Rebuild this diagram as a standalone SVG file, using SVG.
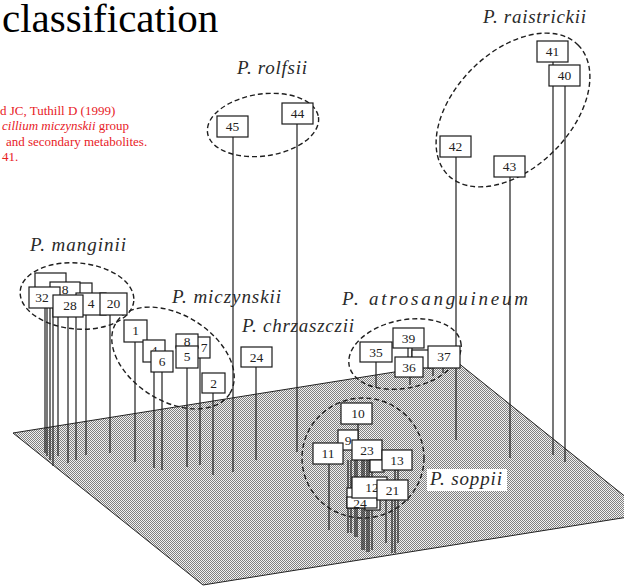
<svg xmlns="http://www.w3.org/2000/svg" width="624" height="588" viewBox="0 0 624 588">
  <defs>
    <pattern id="stipple" width="2" height="2" patternUnits="userSpaceOnUse">
      <rect width="2" height="2" fill="#f2f2f2"/>
      <rect x="0" y="0" width="1" height="1" fill="#808080"/>
      <rect x="1" y="1" width="1" height="1" fill="#808080"/>
    </pattern>
    <style>
      .title { font-family: "Liberation Serif", "Times New Roman", serif; font-size: 41px; fill: #000; }
      .ref { font-family: "Liberation Serif", "Times New Roman", serif; font-size: 13px; fill: #e8211f; }
      .sp { font-family: "Liberation Serif", "Times New Roman", serif; font-style: italic; font-size: 19px; fill: #2a2a2a; }
      .box { fill: #fff; stroke: #1a1a1a; stroke-width: 1.2; }
      .num { font-family: "Liberation Serif", "Times New Roman", serif; font-size: 13.5px; fill: #222; text-anchor: middle; }
      .grp { fill: none; stroke: #1e1e1e; stroke-width: 1.4; stroke-dasharray: 5 3; }
      .stem { stroke: #1e1e1e; stroke-width: 1.2; fill: none; }
    </style>
  </defs>

  <rect width="624" height="588" fill="#fff"/>

  <!-- heading and reference -->
  <text class="title" x="2" y="32">classification</text>
  <g id="reference">
    <text class="ref" x="0" y="115">d JC, Tuthill D (1999)</text>
    <text class="ref" x="2" y="130"><tspan font-style="italic">cillium miczynskii</tspan> group</text>
    <text class="ref" x="6" y="146">and secondary metabolites.</text>
    <text class="ref" x="2" y="161">41.</text>
  </g>

  <!-- ground plane -->
  <polygon id="plane" points="13,433 457,362 647,514 203,585" fill="url(#stipple)" stroke="#222" stroke-width="1"/>

  <!-- cluster outlines -->
  <g id="clusters">
    <ellipse class="grp" cx="513" cy="110" rx="92" ry="58" transform="rotate(-45 513 110)"/>
    <ellipse class="grp" cx="263" cy="125" rx="56" ry="31" transform="rotate(-8 263 125)"/>
    <ellipse class="grp" cx="77" cy="296" rx="57" ry="33" transform="rotate(5 77 296)"/>
    <ellipse class="grp" cx="173" cy="358" rx="67" ry="43" transform="rotate(32 173 358)"/>
    <ellipse class="grp" cx="405" cy="354" rx="57" ry="34" transform="rotate(-12 405 354)"/>
    <ellipse class="grp" cx="363" cy="458" rx="61" ry="60"/>
  </g>

  <!-- stems from each marker down to the plane -->
  <g id="connectors">
    <line class="stem" x1="553" y1="62" x2="553" y2="455"/>
    <line class="stem" x1="565" y1="86" x2="565" y2="462"/>
    <line class="stem" x1="456" y1="157" x2="456" y2="440"/>
    <line class="stem" x1="510" y1="177" x2="510" y2="458"/>
    <line class="stem" x1="233" y1="137" x2="233" y2="472"/>
    <line class="stem" x1="297" y1="124" x2="297" y2="452"/>
    <!-- manginii -->
    <line class="stem" x1="45" y1="300" x2="45" y2="453"/>
    <line class="stem" x1="47" y1="300" x2="47" y2="456"/>
    <line class="stem" x1="50" y1="300" x2="50" y2="460"/>
    <line class="stem" x1="53" y1="300" x2="53" y2="466"/>
    <line class="stem" x1="58" y1="310" x2="58" y2="456"/>
    <line class="stem" x1="68" y1="310" x2="68" y2="463"/>
    <line class="stem" x1="76" y1="310" x2="76" y2="460"/>
    <line class="stem" x1="86" y1="310" x2="86" y2="455"/>
    <line class="stem" x1="110" y1="310" x2="110" y2="453"/>
    <!-- miczynskii -->
    <line class="stem" x1="135" y1="342" x2="135" y2="462"/>
    <line class="stem" x1="154" y1="362" x2="154" y2="468"/>
    <line class="stem" x1="162" y1="372" x2="162" y2="470"/>
    <line class="stem" x1="187" y1="368" x2="187" y2="467"/>
    <line class="stem" x1="200" y1="358" x2="200" y2="465"/>
    <line class="stem" x1="213" y1="393" x2="213" y2="475"/>
    <!-- chrzaszczii -->
    <line class="stem" x1="256" y1="367" x2="256" y2="460"/>
    <!-- atrosanguineum -->
    <line class="stem" x1="376" y1="362" x2="376" y2="387"/>
    <line class="stem" x1="408" y1="348" x2="408" y2="358"/>
    <line class="stem" x1="412" y1="348" x2="412" y2="358"/>
    <line class="stem" x1="410" y1="377" x2="410" y2="385"/>
    <line class="stem" x1="433" y1="368" x2="433" y2="376"/>
    <line class="stem" x1="443" y1="368" x2="443" y2="373"/>
    <!-- soppii -->
    <line class="stem" x1="358" y1="424" x2="358" y2="440"/>
    <line class="stem" x1="329" y1="464" x2="329" y2="530"/>
    <line class="stem" x1="348" y1="460" x2="348" y2="533"/>
    <line class="stem" x1="351" y1="460" x2="351" y2="533"/>
    <line class="stem" x1="355" y1="460" x2="355" y2="537"/>
    <line class="stem" x1="357" y1="460" x2="357" y2="537"/>
    <line class="stem" x1="362" y1="460" x2="362" y2="550"/>
    <line class="stem" x1="364" y1="460" x2="364" y2="550"/>
    <line class="stem" x1="367" y1="460" x2="367" y2="552"/>
    <line class="stem" x1="369" y1="460" x2="369" y2="552"/>
    <line class="stem" x1="372" y1="460" x2="372" y2="550"/>
    <line class="stem" x1="386" y1="500" x2="386" y2="543"/>
    <line class="stem" x1="392" y1="500" x2="392" y2="553"/>
    <line class="stem" x1="395" y1="470" x2="395" y2="553"/>
    <line class="stem" x1="398" y1="470" x2="398" y2="543"/>
  </g>

  <!-- P. raistrickii -->
  <g id="n41"><rect class="box" x="537" y="41" width="31" height="21"/><text class="num" x="552.5" y="56">41</text></g>
  <g id="n40"><rect class="box" x="549" y="65" width="31" height="21"/><text class="num" x="564.5" y="80">40</text></g>
  <g id="n42"><rect class="box" x="440" y="136" width="31" height="21"/><text class="num" x="455.5" y="151">42</text></g>
  <g id="n43"><rect class="box" x="494" y="156" width="31" height="21"/><text class="num" x="509.5" y="171">43</text></g>

  <!-- P. rolfsii -->
  <g id="n45"><rect class="box" x="217" y="116" width="31" height="21"/><text class="num" x="232.5" y="131">45</text></g>
  <g id="n44"><rect class="box" x="282" y="103" width="31" height="21"/><text class="num" x="297.5" y="118">44</text></g>

  <!-- P. manginii -->
  <g id="m-back1"><rect class="box" x="35" y="273" width="31" height="21"/></g>
  <g id="m-back2"><rect class="box" x="62" y="283" width="30" height="21"/></g>
  <g id="n8a"><rect class="box" x="50" y="282" width="30" height="21"/><text class="num" x="65" y="294">8</text></g>
  <g id="n4a"><rect class="box" x="76" y="293" width="30" height="22"/><text class="num" x="91" y="308">4</text></g>
  <g id="n32"><rect class="box" x="29" y="287" width="31" height="21"/><text class="num" x="42" y="302">32</text></g>
  <g id="n28"><rect class="box" x="53" y="295" width="30" height="22"/><text class="num" x="70" y="310">28</text></g>
  <g id="n20"><rect class="box" x="100" y="293" width="27" height="22"/><text class="num" x="113.5" y="308">20</text></g>

  <!-- P. miczynskii -->
  <g id="n1"><rect class="box" x="124" y="320" width="23" height="22"/><text class="num" x="135.5" y="335">1</text></g>
  <g id="n4b"><rect class="box" x="143" y="340" width="22" height="22"/><text class="num" x="154" y="355">4</text></g>
  <g id="n6"><rect class="box" x="151" y="351" width="22" height="21"/><text class="num" x="162" y="366">6</text></g>
  <g id="n7"><rect class="box" x="188" y="337" width="22" height="21"/><text class="num" x="204" y="352">7</text></g>
  <g id="n8b"><rect class="box" x="176" y="334" width="22" height="14"/><text class="num" x="187" y="346">8</text></g>
  <g id="n5"><rect class="box" x="176" y="346" width="22" height="22"/><text class="num" x="187" y="361">5</text></g>
  <g id="n2"><rect class="box" x="202" y="373" width="23" height="20"/><text class="num" x="213.5" y="388">2</text></g>

  <!-- P. chrzaszczii -->
  <g id="n24a"><rect class="box" x="241" y="347" width="31" height="20"/><text class="num" x="256.5" y="362">24</text></g>

  <!-- P. atrosanguineum -->
  <g id="a-back"><rect class="box" x="412" y="350" width="19" height="18"/></g>
  <g id="n35"><rect class="box" x="360" y="342" width="32" height="20"/><text class="num" x="376" y="357">35</text></g>
  <g id="n39"><rect class="box" x="393" y="328" width="31" height="20"/><text class="num" x="408.5" y="343">39</text></g>
  <g id="n36"><rect class="box" x="395" y="357" width="28" height="20"/><text class="num" x="409" y="372">36</text></g>
  <g id="n37"><rect class="box" x="428" y="346" width="32" height="22"/><text class="num" x="444" y="361">37</text></g>

  <!-- P. soppii -->
  <g id="n10"><rect class="box" x="341" y="403" width="31" height="21"/><text class="num" x="358" y="418">10</text></g>
  <g id="n9"><rect class="box" x="338" y="430" width="20" height="20"/><text class="num" x="348" y="445">9</text></g>
  <g id="n11"><rect class="box" x="313" y="443" width="30" height="21"/><text class="num" x="328" y="458">11</text></g>
  <g id="n23"><rect class="box" x="352" y="440" width="30" height="20"/><text class="num" x="367" y="455">23</text></g>
  <g id="s-back1"><rect class="box" x="370" y="460" width="14" height="12"/></g>
  <g id="n13"><rect class="box" x="382" y="450" width="30" height="20"/><text class="num" x="397" y="465">13</text></g>
  <g id="s-back2"><rect class="box" x="347" y="488" width="12" height="20"/></g>
  <g id="s-back3"><rect class="box" x="365" y="498" width="15" height="12"/></g>
  <g id="n24b"><rect class="box" x="347" y="497" width="30" height="11"/><text class="num" x="360" y="508">24</text></g>
  <g id="n12"><rect class="box" x="352" y="477" width="35" height="21"/><text class="num" x="372" y="492">12</text></g>
  <g id="n21"><rect class="box" x="377" y="480" width="31" height="20"/><text class="num" x="392.5" y="495">21</text></g>

  <!-- species labels -->
  <g id="labels">
    <text class="sp" x="483" y="23" textLength="103" lengthAdjust="spacing">P. raistrickii</text>
    <text class="sp" x="237" y="74" textLength="70" lengthAdjust="spacing">P. rolfsii</text>
    <text class="sp" x="30" y="251" textLength="96" lengthAdjust="spacing">P. manginii</text>
    <text class="sp" x="172" y="303" textLength="109" lengthAdjust="spacing">P. miczynskii</text>
    <text class="sp" x="242" y="332" textLength="112" lengthAdjust="spacing">P. chrzaszczii</text>
    <text class="sp" x="342" y="305" textLength="186" lengthAdjust="spacing">P. atrosanguineum</text>
    <rect x="427" y="469" width="80" height="22" fill="#fff"/>
    <text class="sp" x="430" y="485" textLength="72" lengthAdjust="spacing">P. soppii</text>
  </g>
</svg>
